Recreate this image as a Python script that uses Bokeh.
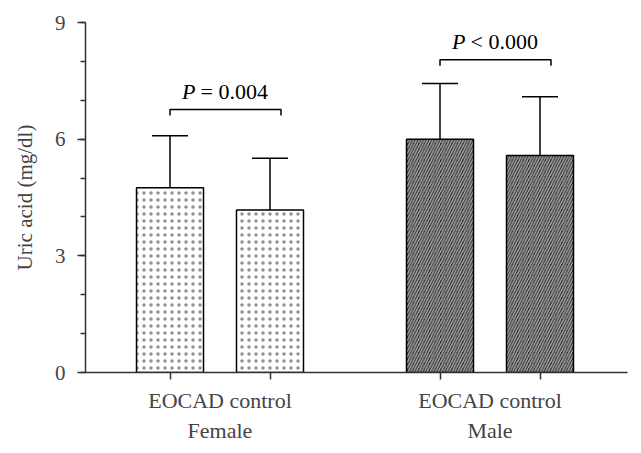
from bokeh.plotting import figure
from bokeh.models import Range1d, FixedTicker, LinearAxis, Whisker, TeeHead, ColumnDataSource
from bokeh.core.properties import value
from bokeh.embed import file_html
from bokeh.resources import INLINE

# ---- data ----
groups = ["Female", "Male"]
subgroups = ["EOCAD", "control"]
means = [4.75, 4.18, 6.00, 5.58]
sds = [1.34, 1.33, 1.43, 1.51]
p_ops = ["= 0.004", "< 0.000"]
bracket_y = [6.76, 8.04]
y_ticks = [0, 3, 6, 9]

# ---- layout constants ----
FONT = "Liberation Serif"
group_centers = [1.345, 4.045]
offset = 0.5
bar_w = 0.67

bar_x, bar_group = [], []
for gi, gc in enumerate(group_centers):
    for si, s in enumerate(subgroups):
        bar_x.append(gc + (si - 0.5) * 2 * offset)
        bar_group.append(groups[gi])
tops = [m + s for m, s in zip(means, sds)]

female_src = ColumnDataSource(dict(x=[x for x, g in zip(bar_x, bar_group) if g == "Female"],
                                   top=[m for m, g in zip(means, bar_group) if g == "Female"]))
male_src = ColumnDataSource(dict(x=[x for x, g in zip(bar_x, bar_group) if g == "Male"],
                                 top=[m for m, g in zip(means, bar_group) if g == "Male"]))
err_src = ColumnDataSource(dict(x=bar_x, lower=means, upper=tops))

p = figure(width=633, height=445, output_backend="svg", toolbar_location=None,
           x_range=Range1d(0, 5.42), y_range=Range1d(0, 9),
           x_axis_type=None, min_border_left=85, min_border_right=6,
           min_border_top=22, min_border_bottom=67)
p.outline_line_color = None
p.xgrid.visible = False
p.ygrid.visible = False
p.background_fill_color = "white"

# bars
p.vbar(x="x", top="top", bottom=0, width=bar_w, source=female_src,
       fill_color="white", line_color="black", line_width=1.5,
       hatch_pattern="dot", hatch_color="#222222", hatch_alpha=0.5,
       hatch_scale=7, hatch_weight=0.5)
p.vbar(x="x", top="top", bottom=0, width=bar_w, source=male_src,
       fill_color="#262626", line_color="black", line_width=1.5,
       hatch_pattern="right_diagonal_line", hatch_color="#a6a6a6", hatch_scale=5.5, hatch_weight=1.5)

# error bars (upper only)
p.add_layout(Whisker(base="x", lower="lower", upper="upper", source=err_src,
                     line_color="black", line_width=1.5,
                     upper_head=TeeHead(size=36, line_color="black", line_width=1.5),
                     lower_head=None))

# significance brackets
drop = 0.15
bx0 = [bar_x[0], bar_x[2]]
bx1 = [bar_x[1] + 0.11, bar_x[3] + 0.11]
xs = [[a, a, b, b] for a, b in zip(bx0, bx1)]
ys = [[y - drop, y, y, y - drop] for y in bracket_y]
p.multi_line(xs=xs, ys=ys, line_color="black", line_width=1.5)

cx = [(a + b) / 2 for a, b in zip(bx0, bx1)]
p.text(x=cx, y=bracket_y, text=["P", "P"], text_font=value(FONT), text_font_style="italic",
       text_font_size="22px", text_align="right", text_baseline="alphabetic",
       x_offset=-30, y_offset=-18, text_color="black")
p.text(x=cx, y=bracket_y, text=p_ops, text_font=value(FONT),
       text_font_size="22px", text_align="left", text_baseline="alphabetic",
       x_offset=-25, y_offset=-18, text_color="black")

# y axis
ya = p.yaxis[0]
ya.ticker = FixedTicker(ticks=y_ticks, minor_ticks=list(range(0, 10)))
ya.axis_label = "Uric acid (mg/dl)"
ya.axis_label_text_font = FONT
ya.axis_label_text_font_style = "normal"
ya.axis_label_text_font_size = "21px"
ya.axis_label_standoff = 15
ya.major_label_text_font = FONT
ya.major_label_text_font_size = "21px"
ya.major_label_standoff = 12
ya.axis_line_color = "#333333"
ya.axis_line_width = 1.5
ya.major_tick_line_color = "#333333"
ya.major_tick_line_width = 1.5
ya.major_tick_out = 8
ya.major_tick_in = 0
ya.minor_tick_line_color = "#333333"
ya.minor_tick_line_width = 1.5
ya.minor_tick_out = 5
ya.minor_tick_in = 0

# x axis: ticks at bars
ax1 = LinearAxis(ticker=FixedTicker(ticks=bar_x, minor_ticks=[]),
                 major_label_overrides={x: "" for x in bar_x}, major_label_standoff=0,
                 axis_line_color="#333333", axis_line_width=1.5,
                 major_tick_line_color="#333333", major_tick_line_width=1.5,
                 major_tick_out=7, major_tick_in=0)
# x axis: group labels
labels = {gc: "EOCAD control\n" + g for gc, g in zip(group_centers, groups)}
ax2 = LinearAxis(ticker=FixedTicker(ticks=group_centers, minor_ticks=[]),
                 major_label_overrides=labels,
                 major_label_text_font=FONT, major_label_text_font_size="22px",
                 major_label_standoff=8,
                 axis_line_color=None, major_tick_line_color=None,
                 major_tick_out=0, major_tick_in=0)
p.add_layout(ax1, "below")
p.add_layout(ax2, "below")

open("out.html", "w").write(file_html(p, INLINE))
